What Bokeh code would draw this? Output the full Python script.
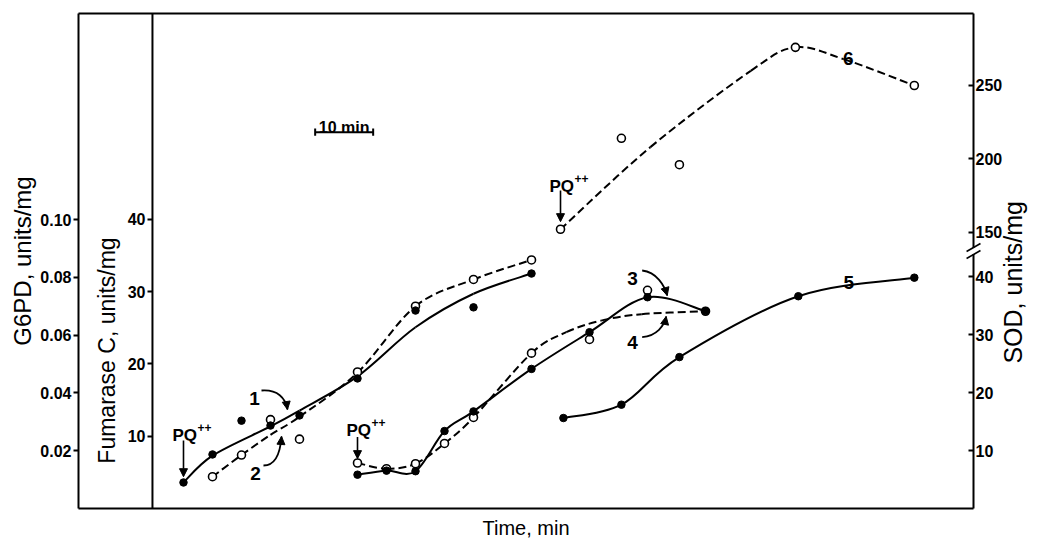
import math
from bokeh.plotting import figure
from bokeh.models import Range1d, LinearAxis, FixedTicker, Arrow, NormalHead, ColumnDataSource
from bokeh.core.properties import value
from bokeh.embed import file_html
from bokeh.resources import INLINE

FONT = "Liberation Sans"

# ---- measured activities (time in min from the first PQ++ addition) ----
# curve 1: G6PD, units/mg
t1 = [0, 5, 10, 15, 20, 30, 40, 50, 60]
g6pd_1 = [0.0090, 0.0187, 0.0304, 0.0287, 0.0322, 0.0450, 0.0685, 0.0696, 0.0813]
# curve 2: fumarase C, units/mg
t2 = [5, 10, 15, 20, 30, 40, 50, 60]
fum_2 = [4.4, 7.4, 12.3, 9.6, 18.9, 28.0, 31.7, 34.4]
# curves 3 and 4: second PQ++ addition at 30 min
t34 = [30, 35, 40, 45, 50, 60, 70, 80, 90]
g6pd_3 = [0.0117, 0.0131, 0.0129, 0.0268, 0.0336, 0.0483, 0.0610, 0.0731, 0.0683]
fum_4 = [6.3, 5.5, 6.2, 9.0, 12.6, 21.5, 23.4, 30.2, 27.3]
# curves 5 and 6: SOD, units/mg
t5 = [65.5, 75.5, 85.5, 106, 126]
sod_5 = [15.6, 17.9, 26.1, 36.6, 39.8]
t6 = [65, 75.5, 85.5, 105.5, 126]
sod_6 = [152, 214, 196, 276, 250]

# ---- hand-fitted smooth curves (nodes the drawn curves pass through) ----
fit1_t = [0, 5, 15, 20, 30, 40, 50, 60]
fit1 = [0.0090, 0.0183, 0.0284, 0.0339, 0.0457, 0.0627, 0.0743, 0.0813]
fit2_t = [5, 10, 15, 20, 30, 40, 50, 60]
fit2 = [4.4, 7.4, 10.2, 12.7, 18.8, 28.0, 31.7, 34.4]
fit4_t = [30, 35, 40, 45, 50, 60, 66, 72, 79, 90]
fit4 = [6.3, 5.5, 6.2, 9.0, 12.6, 21.5, 24.4, 26.0, 26.9, 27.3]
fit6_t = [65, 80.5, 97.8, 105.5, 113.8, 126]
fit6 = [152, 208, 260, 276, 268, 250]

pq_times = [0, 30, 65]
scale_bar_min = 10

g6pd_ticks = [0.02, 0.04, 0.06, 0.08, 0.10]
fum_ticks = [10, 20, 30, 40]
sod_low_ticks = [10, 20, 30, 40]
sod_high_ticks = [150, 200, 250]

# ---- box limits (time, fumarase units) and axis ranges ----
X_LEFT, X_RIGHT = -18.103, 136.207          # G6PD axis / SOD axis
FUM_AXIS_X = -5.35                          # fumarase axis
FUM_TOP = 68.51
G6PD_TOP = 0.17128
SOD_TOP = 85.34

x_rng = Range1d(-31.55, 147.41)
fum_rng = Range1d(-4.429, 70.31)
g6pd_rng = Range1d(-0.011073, 0.175779)
sod_rng = Range1d(-5.517, 87.586)
sod_hi_rng = Range1d(-60.16, 307.94)


def smooth(xs, ys):
    """Catmull-Rom spline through the nodes, as cubic Bezier segments."""
    n = len(xs)
    X = [xs[0]] + list(xs) + [xs[-1]]
    Y = [ys[0]] + list(ys) + [ys[-1]]
    d = dict(x0=[], y0=[], x1=[], y1=[], cx0=[], cy0=[], cx1=[], cy1=[])
    for i in range(1, n):
        a, b, c, e = i - 1, i, i + 1, i + 2
        d["x0"].append(X[b]); d["y0"].append(Y[b])
        d["x1"].append(X[c]); d["y1"].append(Y[c])
        d["cx0"].append(X[b] + (X[c] - X[a]) / 6); d["cy0"].append(Y[b] + (Y[c] - Y[a]) / 6)
        d["cx1"].append(X[c] - (X[e] - X[b]) / 6); d["cy1"].append(Y[c] - (Y[e] - Y[b]) / 6)
    return ColumnDataSource(d)


p = figure(width=1038, height=540, x_range=x_rng, y_range=fum_rng,
           x_axis_location=None, y_axis_location=None,
           min_border=0, output_backend="svg", toolbar_location=None)
p.title.visible = False
p.extra_y_ranges = {"g6pd": g6pd_rng, "sod": sod_rng, "sod_hi": sod_hi_rng}
p.background_fill_color = "white"
p.border_fill_color = "white"
p.outline_line_color = None
p.xgrid.visible = False
p.ygrid.visible = False


def style_axis(ax, title, size="22px"):
    ax.axis_label = title
    ax.axis_label_text_font = FONT
    ax.axis_label_text_font_size = size
    ax.axis_label_text_font_style = "normal"
    ax.axis_label_text_color = "black"
    ax.major_label_text_font = FONT
    ax.major_label_text_font_size = "16px"
    ax.major_label_text_font_style = "bold"
    ax.major_label_text_color = "black"
    ax.axis_line_color = "black"
    ax.axis_line_width = 2
    ax.major_tick_line_color = "black"
    ax.major_tick_line_width = 2
    ax.minor_tick_line_color = None
    ax.major_label_standoff = 2


# G6PD axis: left side of the box
ax_g = LinearAxis(y_range_name="g6pd", ticker=FixedTicker(ticks=g6pd_ticks),
                  fixed_location=X_LEFT, bounds=(0, G6PD_TOP))
style_axis(ax_g, "G6PD, units/mg", "24px")
ax_g.major_label_overrides = {t: f"{t:.2f}" for t in g6pd_ticks}
ax_g.major_tick_out = 5
ax_g.major_tick_in = 0
ax_g.axis_label_standoff = 1
p.add_layout(ax_g, "left")

# fumarase axis: full-height line, title centred on the lower part
p.segment(x0=[FUM_AXIS_X], y0=[0], x1=[FUM_AXIS_X], y1=[FUM_TOP], line_color="black", line_width=2)
ax_f = LinearAxis(ticker=FixedTicker(ticks=fum_ticks), fixed_location=FUM_AXIS_X,
                  bounds=(0, 43.8))
style_axis(ax_f, "Fumarase C, units/mg", "23px")
ax_f.axis_line_color = None
ax_f.major_tick_out = 5
ax_f.major_tick_in = 0
ax_f.axis_label_standoff = 5
p.add_layout(ax_f, "left")

# SOD axis (right side of the box) with a break between 40 and 150
lo, hi = sod_rng, sod_hi_rng
def hi_to_lo(v):
    return round(lo.start + (v - hi.start) * (lo.end - lo.start) / (hi.end - hi.start), 4)

sod_tick_pos = sod_low_ticks + [hi_to_lo(v) for v in sod_high_ticks]
sod_tick_txt = [str(v) for v in sod_low_ticks + sod_high_ticks]
ax_s = LinearAxis(y_range_name="sod", ticker=FixedTicker(ticks=sod_tick_pos),
                  fixed_location=X_RIGHT, bounds=(0, SOD_TOP))
style_axis(ax_s, "")
ax_s.major_label_overrides = dict(zip(sod_tick_pos, sod_tick_txt))
ax_s.major_tick_in = 5
ax_s.major_tick_out = 0
p.add_layout(ax_s, "right")
p.text(x=[X_RIGHT], y=[39], text=["SOD, units/mg"], y_range_name="sod", x_offset=39,
       angle=math.pi / 2, text_align="center", text_baseline="middle",
       text_font=value(FONT), text_font_size="25px", text_color="black")

# time axis: bottom side of the box, title only
ax_t = LinearAxis(ticker=FixedTicker(ticks=[]), fixed_location=0, bounds=(X_LEFT, X_RIGHT))
style_axis(ax_t, "Time, min", "20px")
ax_t.major_tick_line_color = None
ax_t.axis_label_standoff = 8
p.add_layout(ax_t, "below")

# top side of the box
p.segment(x0=[X_LEFT], y0=[FUM_TOP], x1=[X_RIGHT], y1=[FUM_TOP], line_color="black", line_width=2)

# ---- smooth curves ----
solid = dict(line_color="black", line_width=2)
dashed = dict(line_color="black", line_width=2, line_dash="8 4")
bz = dict(x0="x0", y0="y0", x1="x1", y1="y1", cx0="cx0", cy0="cy0", cx1="cx1", cy1="cy1")
p.bezier(source=smooth(fit1_t, fit1), y_range_name="g6pd", **bz, **solid)
p.bezier(source=smooth(fit2_t, fit2), **bz, **dashed)
p.bezier(source=smooth(t34, g6pd_3), y_range_name="g6pd", **bz, **solid)
p.bezier(source=smooth(fit4_t, fit4), **bz, **dashed)
p.bezier(source=smooth(t5, sod_5), y_range_name="sod", **bz, **solid)
p.bezier(source=smooth(fit6_t, fit6), y_range_name="sod_hi", **bz, **dashed)

# ---- data points ----
opn = dict(size=8, fill_color="white", line_color="black", line_width=1.6)
fil = dict(size=7.5, fill_color="black", line_color="black")
p.scatter(t2, fum_2, **opn)
p.scatter(t34, fum_4, **opn)
p.scatter(t6, sod_6, y_range_name="sod_hi", **opn)
p.scatter(t1, g6pd_1, y_range_name="g6pd", **fil)
p.scatter(t34, g6pd_3, y_range_name="g6pd", **fil)
p.scatter(t5, sod_5, y_range_name="sod", **fil)

# ---- annotations ----
bold = dict(text_font=value(FONT), text_font_style="bold", text_color="black")

# PQ++ additions
pq_label_y = [10.1, 10.8, 44.5]
pq_arrow = [(9.4, 4.4), (9.9, 6.9), (44.0, 39.7)]
for tq, ly, (ya, yb) in zip(pq_times, pq_label_y, pq_arrow):
    p.text(x=[tq], y=[ly], text=["PQ"], text_font_size="17px", text_align="left",
           text_baseline="alphabetic", x_offset=-11, **bold)
    p.text(x=[tq], y=[ly], text=["++"], text_font_size="12px", text_align="left",
           text_baseline="alphabetic", x_offset=14, y_offset=-8, **bold)
    p.add_layout(Arrow(x_start=tq, y_start=ya, x_end=tq, y_end=yb, line_width=1.6,
                       end=NormalHead(size=8, fill_color="black", line_color="black")))

# curve numbers
num_x = [12.24, 12.41, 77.4, 77.4, 114.7, 114.6]
num_y = [15.22, 4.84, 31.79, 23.02, 31.32, 62.24]
p.text(x=num_x, y=num_y, text=["1", "2", "3", "4", "5", "6"], text_font_size="19px",
       text_align="center", text_baseline="alphabetic", **bold)

# curved pointers from the numbers to curves 1-4
pointers = dict(
    x0=[13.45, 13.79, 79.08, 79.08], y0=[16.33, 5.95, 32.94, 23.71],
    cx0=[16.2, 16.0, 81.6, 81.6], cy0=[16.5, 5.95, 32.7, 23.9],
    cx1=[17.6, 16.7, 82.9, 82.9], cy1=[15.3, 7.8, 30.9, 25.3],
    x1=[17.93, 16.90, 83.40, 83.22], y1=[13.70, 9.97, 29.48, 26.57],
)
p.bezier(source=ColumnDataSource(pointers), line_color="black", line_width=1.8, **bz)
for xs, ys, xe, ye in zip(pointers["cx1"], pointers["cy1"], pointers["x1"], pointers["y1"]):
    p.add_layout(Arrow(x_start=xs + (xe - xs) * 0.6, y_start=ys + (ye - ys) * 0.6,
                       x_end=xe, y_end=ye, line_width=1.8,
                       end=NormalHead(size=8, fill_color="black", line_color="black")))

# 10 min scale bar
bar_x0, bar_y = 22.7, 52.08
p.segment(x0=[bar_x0], y0=[bar_y], x1=[bar_x0 + scale_bar_min], y1=[bar_y],
          line_color="black", line_width=2)
p.segment(x0=[bar_x0, bar_x0 + scale_bar_min], y0=[bar_y - 0.5, bar_y - 0.5],
          x1=[bar_x0, bar_x0 + scale_bar_min], y1=[bar_y + 0.5, bar_y + 0.5],
          line_color="black", line_width=2)
p.text(x=[bar_x0 + scale_bar_min / 2], y=[bar_y + 0.7], text=[f"{scale_bar_min} min"],
       text_font_size="16px", text_align="center", text_baseline="alphabetic", **bold)

# axis break marks on the SOD axis
xb0, xb1 = X_RIGHT - 1.2, X_RIGHT + 1.2
p.add_layout(Arrow(x_start=X_RIGHT, y_start=43.9, x_end=X_RIGHT, y_end=44.9, y_range_name="sod",
                   end=None, line_color="white", line_width=4))
for ya, yb in [(44.31, 45.69), (43.10, 44.48)]:
    p.add_layout(Arrow(x_start=xb0, y_start=ya, x_end=xb1, y_end=yb, y_range_name="sod",
                       end=None, line_color="black", line_width=1.6))

open("out.html", "w").write(file_html(p, INLINE))
